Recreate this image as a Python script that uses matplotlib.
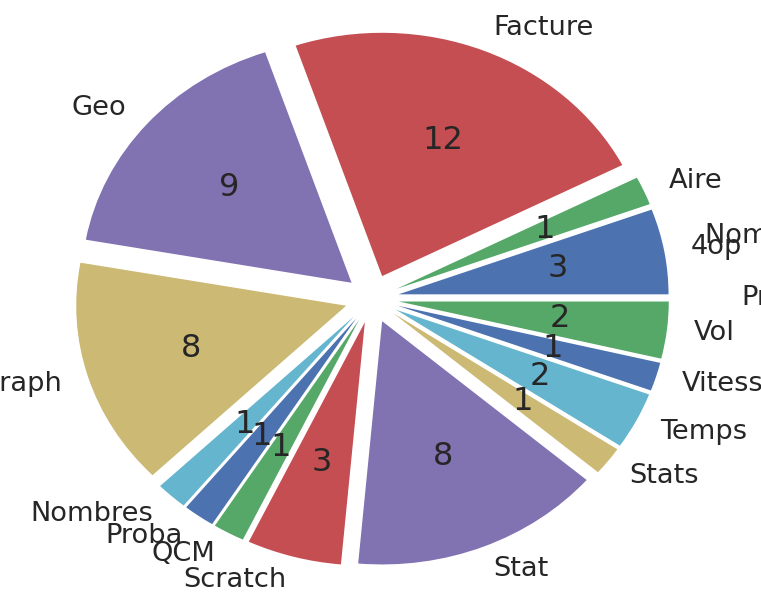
import matplotlib.pyplot as plt

# nombre d'exercices par theme
themes = ['4op', 'Aire', 'Facture', 'Geo', 'Graph', 'Nombres', 'Proba', 'QCM',
          'Scratch', 'Stat', 'Stats', 'Temps', 'Vitesse', 'Vol']
counts = [3, 1, 12, 9, 8, 1, 1, 1, 3, 8, 1, 2, 1, 2]
# deux etiquettes qui depassent a droite (coupees par le bord)
extra_labels = ['Nombres relatifs', 'Proportionnalité']

palette = ['#4C72B0', '#55A868', '#C44E52', '#8172B2', '#CCB974', '#64B5CD']
text_color = '#262626'
total = sum(counts)

fig = plt.figure(figsize=(7.61, 5.93), dpi=100)
ax = fig.add_axes([0, 0, 1, 1])

colors = [palette[i % len(palette)] for i in range(len(counts))]
wedges, texts, autotexts = ax.pie(
    counts,
    labels=themes,
    colors=colors,
    explode=[0.1] * len(counts),
    autopct=lambda p: '{:.0f}'.format(p * total / 100),
    textprops={'fontsize': 19.6, 'color': text_color},
)
for t in autotexts:
    t.set_fontsize(23)

ax.text(1.233, 0.258, extra_labels[0], ha='left', va='center',
        fontsize=19.6, color=text_color)
ax.text(1.367, 0.008, extra_labels[1], ha='left', va='center',
        fontsize=19.6, color=text_color)

ax.set_aspect('auto')
ax.set_xlim(-1.378, 1.441)
ax.set_ylim(-1.21, 1.2275)
ax.axis('off')

plt.savefig('out.png')
plt.close()
